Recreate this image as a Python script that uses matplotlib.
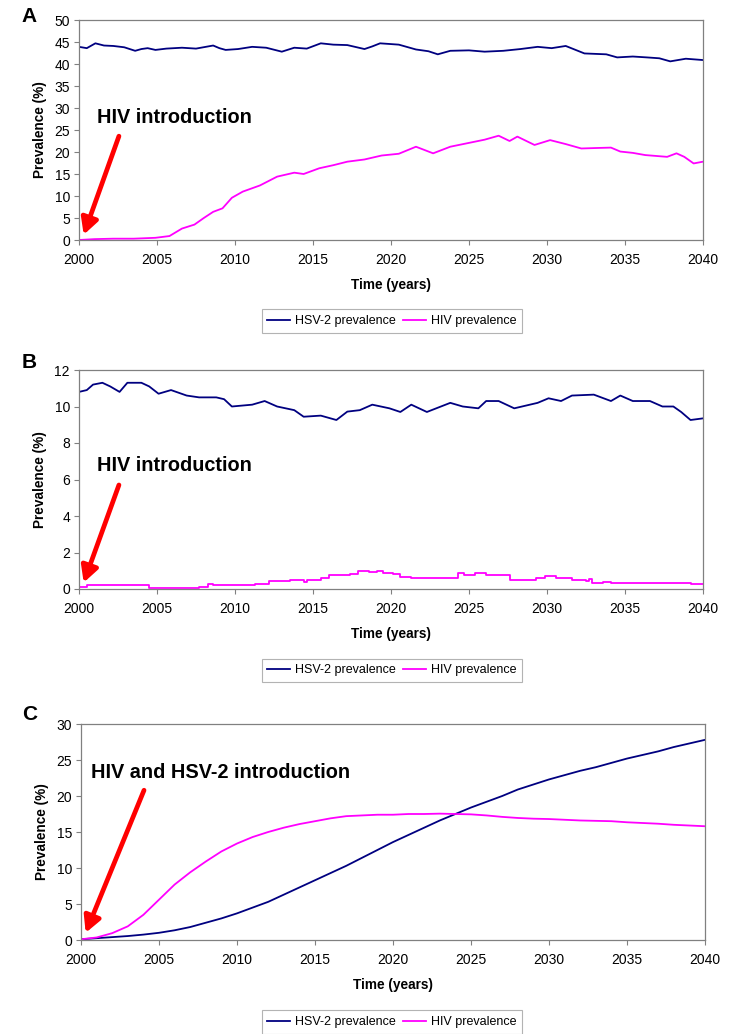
import matplotlib
matplotlib.use("Agg")
import matplotlib.pyplot as plt

plt.rcParams['font.family'] = ['Liberation Sans', 'DejaVu Sans']

# ---------------- data ----------------
years_a_hsv = [2000.0, 2000.5, 2001.05, 2001.6, 2002.2, 2002.9, 2003.6, 2004.0, 2004.4, 2004.9, 2005.6,
               2006.6, 2007.5, 2008.6, 2009.0, 2009.4, 2010.2, 2011.1, 2012.0, 2013.0, 2013.8, 2014.6,
               2015.5, 2016.3, 2017.2, 2018.3, 2018.8, 2019.3, 2020.5, 2021.6, 2022.4, 2023.0, 2023.8,
               2025.0, 2026.0, 2027.2, 2028.3, 2029.4, 2030.3, 2031.2, 2032.4, 2033.8, 2034.5, 2035.5,
               2036.4, 2037.2, 2037.9, 2038.9, 2040.0]
hsv_a = [43.9, 43.6, 44.7, 44.2, 44.1, 43.8, 43.0, 43.4, 43.6, 43.2, 43.5,
         43.7, 43.5, 44.2, 43.6, 43.2, 43.4, 43.9, 43.7, 42.8, 43.7, 43.5,
         44.7, 44.4, 44.3, 43.4, 44.0, 44.7, 44.4, 43.3, 42.9, 42.2, 43.0,
         43.1, 42.8, 43.0, 43.4, 43.9, 43.6, 44.1, 42.4, 42.2, 41.5, 41.7,
         41.5, 41.3, 40.6, 41.2, 40.9]

years_a_hiv = [2000.0, 2001.0, 2002.2, 2003.5, 2004.9, 2005.8, 2006.6, 2007.4, 2008.0, 2008.6, 2009.2,
               2009.8, 2010.5, 2011.6, 2012.7, 2013.8, 2014.4, 2015.4, 2016.3, 2017.2, 2018.3, 2019.4,
               2020.5, 2021.6, 2022.7, 2023.8, 2024.9, 2026.0, 2026.9, 2027.6, 2028.1, 2029.2, 2030.2,
               2031.2, 2032.2, 2033.1, 2034.1, 2034.7, 2035.5, 2036.3, 2037.7, 2038.3, 2038.8, 2039.4, 2040.0]
hiv_a = [0.0, 0.2, 0.3, 0.3, 0.5, 0.9, 2.6, 3.5, 5.0, 6.4, 7.2,
         9.6, 11.0, 12.4, 14.4, 15.3, 15.0, 16.3, 17.0, 17.8, 18.3, 19.2,
         19.6, 21.2, 19.7, 21.2, 22.0, 22.8, 23.7, 22.5, 23.5, 21.6, 22.7,
         21.8, 20.8, 20.9, 21.0, 20.1, 19.8, 19.3, 18.9, 19.7, 18.9, 17.4, 17.8]

years_b_hsv = [2000.0, 2000.5, 2000.9, 2001.5, 2002.0, 2002.6, 2003.1, 2004.0, 2004.5, 2005.1, 2005.9,
               2006.9, 2007.7, 2008.8, 2009.3, 2009.8, 2011.1, 2011.9, 2012.7, 2013.8, 2014.4, 2015.5,
               2016.5, 2017.2, 2018.0, 2018.8, 2019.9, 2020.6, 2021.3, 2022.3, 2023.8, 2024.6, 2025.6,
               2026.1, 2026.9, 2027.9, 2029.4, 2030.1, 2030.9, 2031.6, 2033.0, 2034.1, 2034.7, 2035.5,
               2036.6, 2037.4, 2038.1, 2038.6, 2039.2, 2040.0]
hsv_b = [10.8, 10.9, 11.2, 11.3, 11.1, 10.8, 11.3, 11.3, 11.1, 10.7, 10.9,
         10.6, 10.5, 10.5, 10.4, 10.0, 10.1, 10.3, 10.0, 9.8, 9.44, 9.5,
         9.26, 9.72, 9.8, 10.1, 9.9, 9.7, 10.1, 9.7, 10.2, 10.0, 9.9,
         10.3, 10.3, 9.9, 10.2, 10.45, 10.3, 10.6, 10.65, 10.3, 10.6, 10.3,
         10.3, 10.0, 10.0, 9.7, 9.26, 9.35]

years_b_hiv = [2000.0, 2000.5, 2004.5, 2007.7, 2008.3, 2008.6, 2011.3, 2012.2, 2013.5, 2014.4, 2014.6,
               2015.5, 2016.0, 2017.4, 2017.9, 2018.6, 2019.1, 2019.5, 2020.1, 2020.6, 2021.3, 2024.1,
               2024.3, 2024.7, 2025.4, 2026.1, 2027.6, 2029.3, 2029.9, 2030.6, 2031.6, 2032.5, 2032.7,
               2032.9, 2033.6, 2034.1, 2039.2, 2040.0]
hiv_b = [0.1, 0.2, 0.07, 0.1, 0.25, 0.2, 0.3, 0.45, 0.5, 0.4, 0.5,
         0.6, 0.75, 0.8, 1.0, 0.95, 1.0, 0.9, 0.8, 0.65, 0.6, 0.6,
         0.85, 0.75, 0.85, 0.75, 0.5, 0.6, 0.7, 0.6, 0.5, 0.45, 0.55,
         0.35, 0.4, 0.35, 0.25, 0.25]

years_c = [2000, 2001, 2002, 2003, 2004, 2005, 2006, 2007, 2008, 2009, 2010, 2011, 2012, 2013, 2014,
           2015, 2016, 2017, 2018, 2019, 2020, 2021, 2022, 2023, 2024, 2025, 2026, 2027, 2028, 2029,
           2030, 2031, 2032, 2033, 2034, 2035, 2036, 2037, 2038, 2039, 2040]
hsv_c = [0.1, 0.25, 0.4, 0.55, 0.75, 1.0, 1.35, 1.8, 2.4, 3.0, 3.7, 4.5, 5.3, 6.3, 7.3,
         8.3, 9.3, 10.3, 11.4, 12.5, 13.6, 14.6, 15.6, 16.6, 17.5, 18.4, 19.2, 20.0, 20.9, 21.6,
         22.3, 22.9, 23.5, 24.0, 24.6, 25.2, 25.7, 26.2, 26.8, 27.3, 27.8]
hiv_c = [0.1, 0.35, 0.95, 1.9, 3.5, 5.6, 7.7, 9.4, 10.9, 12.3, 13.4, 14.3, 15.0, 15.6, 16.1,
         16.5, 16.9, 17.2, 17.3, 17.4, 17.4, 17.5, 17.5, 17.55, 17.5, 17.45, 17.3, 17.1, 16.95, 16.85,
         16.8, 16.7, 16.6, 16.55, 16.5, 16.35, 16.25, 16.15, 16.0, 15.9, 15.8]

x_ticks = [2000, 2005, 2010, 2015, 2020, 2025, 2030, 2035, 2040]
series_labels = ["HSV-2 prevalence", "HIV prevalence"]
panel_letters = ["A", "B", "C"]
annot_texts = ["HIV introduction", "HIV introduction", "HIV and HSV-2 introduction"]

# ---------------- layout ----------------
W, H = 750, 1034
fig = plt.figure(figsize=(W / 100, H / 100), dpi=100)
fig.patch.set_facecolor("white")

NAVY = "#000080"
MAG = "#FF00FF"
GRAY = "#808080"

def make_ax(left, right, top, bottom):
    return fig.add_axes([left / W, 1 - bottom / H, (right - left) / W, (bottom - top) / H])

panels = [
    dict(box=(79, 703, 20, 240), ylim=50, ystep=5,
         hsv=(years_a_hsv, hsv_a), hiv=(years_a_hiv, hiv_a), hivstep=False,
         text_xy=(2001.15, 27.9), tail=(2002.56, 23.6), head=(2000.3, 1.2),
         letter_xy=(29, 16), legend_y=321),
    dict(box=(79, 703, 370, 589), ylim=12, ystep=2,
         hsv=(years_b_hsv, hsv_b), hiv=(years_b_hiv, hiv_b), hivstep=True,
         text_xy=(2001.15, 6.74), tail=(2002.56, 5.7), head=(2000.3, 0.35),
         letter_xy=(29, 363), legend_y=670.5),
    dict(box=(81, 705, 724, 940), ylim=30, ystep=5,
         hsv=(years_c, hsv_c), hiv=(years_c, hiv_c), hivstep=False,
         text_xy=(2000.67, 23.3), tail=(2004.04, 20.8), head=(2000.3, 1.0),
         letter_xy=(30, 715), legend_y=1022),
]

for i, p in enumerate(panels):
    l, r, t, b = p["box"]
    ax = make_ax(l, r, t, b)
    hpx = b - t
    h1, = ax.plot(p["hsv"][0], p["hsv"][1], color=NAVY, lw=1.3)
    h2, = ax.plot(p["hiv"][0], p["hiv"][1], color=MAG, lw=1.3,
                  drawstyle="steps-post" if p["hivstep"] else "default")
    ax.set_xlim(2000, 2040)
    ax.set_ylim(0, p["ylim"])
    ax.set_xticks(x_ticks)
    ax.set_yticks(list(range(0, p["ylim"] + 1, p["ystep"])))
    ax.tick_params(axis="both", direction="out", length=3.5, width=0.8, color=GRAY,
                   labelsize=10, pad=3, labelcolor="black")
    ax.tick_params(axis="x", pad=6)
    for s in ax.spines.values():
        s.set_color(GRAY)
        s.set_linewidth(0.9)
    ax.set_ylabel("Prevalence (%)", fontsize=9.8, fontweight="bold")
    ax.yaxis.set_label_coords(-32 / 624, 0.5)
    ax.set_xlabel("Time (years)", fontsize=9.8, fontweight="bold")
    ax.xaxis.set_label_coords(0.5, -38 / hpx)

    ax.text(p["text_xy"][0], p["text_xy"][1], annot_texts[i], fontsize=14.3,
            fontweight="bold", ha="left", va="center")
    ax.annotate("", xy=p["head"], xytext=p["tail"],
                arrowprops=dict(arrowstyle="-|>,head_length=0.6,head_width=0.32",
                                lw=3.4, color="#FF0000", shrinkA=0, shrinkB=0,
                                mutation_scale=16))
    fig.text(p["letter_xy"][0] / W, 1 - p["letter_xy"][1] / H, panel_letters[i],
             fontsize=15, fontweight="bold", ha="center", va="center")
    leg = fig.legend([h1, h2], series_labels, loc="center",
                     bbox_to_anchor=(392 / W, 1 - p["legend_y"] / H), ncol=2,
                     fontsize=9, frameon=True, fancybox=False, edgecolor="#A0A0A0",
                     handlelength=1.85, handletextpad=0.4, columnspacing=0.55,
                     borderpad=0.45, borderaxespad=0)
    leg.get_frame().set_linewidth(0.8)

fig.savefig("out.png", dpi=100, facecolor="white")
